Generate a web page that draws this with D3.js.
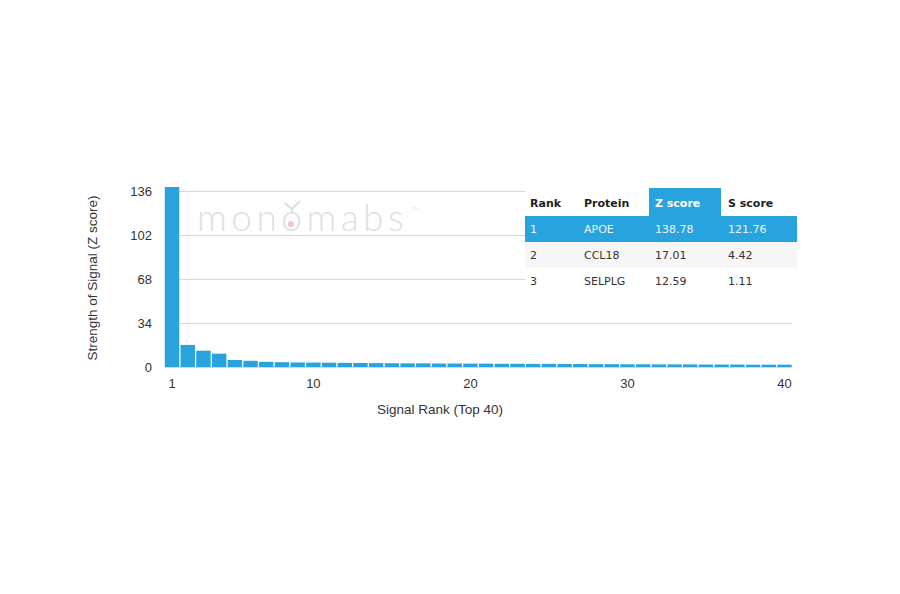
<!DOCTYPE html>
<html><head><meta charset="utf-8">
<script src="https://cdn.jsdelivr.net/npm/d3@7"></script>
<style>body{margin:0;background:#fff;} svg{display:block;}</style>
</head><body>
<svg id="c" width="900" height="594"></svg>
<script>
const ranks = d3.range(1, 41);
const zScores = [138.78,17.01,12.59,10.3,5.4,4.8,4.0,3.7,3.5,3.4,3.3,3.2,3.1,3.0,2.9,2.8,2.8,2.7,2.7,2.6,2.6,2.5,2.5,2.4,2.4,2.3,2.3,2.2,2.2,2.1,2.1,2.0,2.0,2.0,1.9,1.9,1.9,1.8,1.8,1.8];
const yTicks = [0,34,68,102,136];
const xTicks = [1,10,20,30,40];
const tableHeader = ["Rank","Protein","Z score","S score"];
const tableRank = ["1","2","3"];
const tableProtein = ["APOE","CCL18","SELPLG"];
const tableZ = ["138.78","17.01","12.59"];
const tableS = ["121.76","4.42","1.11"];

const svg = d3.select("#c");
const blue = "#29a3dd";
const x = d3.scaleBand().domain(ranks).range([164.5, 792]).paddingInner(0.08).paddingOuter(0.02);
const y = d3.scaleLinear().domain([0, 138.78]).range([367, 187]);

// gridlines
svg.append("g").selectAll("line").data(yTicks.filter(d=>d>0)).join("line")
  .attr("x1", 165).attr("x2", 792)
  .attr("y1", d=>Math.round(y(d))+0.5).attr("y2", d=>Math.round(y(d))+0.5)
  .attr("stroke", "#d6d6d6").attr("stroke-width", 1);

// watermark
const wm = svg.append("g");
const wt = wm.append("text").attr("x", 197).attr("y", 231).text("monomabs")
  .attr("font-family", "Lato, 'Open Sans', sans-serif").attr("font-weight", 300)
  .attr("font-size", 37).attr("letter-spacing", 4.5).attr("fill", "#e0e0e0");
let cx = 294;
try {
  const s = wt.node().getStartPositionOfChar(3).x, e = wt.node().getEndPositionOfChar(3).x;
  cx = (s + e) / 2 - 2;
} catch (err) {}
wm.append("circle").attr("cx", cx - 1).attr("cy", 224).attr("r", 3).attr("fill", "#f2c4cb");
wm.append("path").attr("d", `M${cx-7},203 L${cx},209 L${cx+8},201 M${cx},209 L${cx},213`)
  .attr("stroke", "#e0e0e0").attr("stroke-width", 2.2).attr("fill", "none");
wm.append("text").attr("x", 412).attr("y", 211).text("™").attr("font-size", 6).attr("fill", "#e6e6e6")
  .attr("font-family", "'Liberation Sans', sans-serif");

// bars
svg.append("g").selectAll("rect").data(ranks).join("rect")
  .attr("x", d=>x(d)).attr("width", x.bandwidth())
  .attr("y", (d,i)=>y(zScores[i])).attr("height", (d,i)=>y(0)-y(zScores[i]))
  .attr("fill", blue);

// baseline
svg.append("line").attr("x1",165).attr("x2",792).attr("y1",367.5).attr("y2",367.5)
  .attr("stroke","#d6d6d6");

// y axis labels
svg.append("g").selectAll("text").data(yTicks).join("text")
  .attr("x", 152).attr("y", d=>y(d)+5).attr("text-anchor","end")
  .attr("font-family","'Liberation Sans', Arial, sans-serif").attr("font-size",13)
  .attr("fill","#333").text(d=>d);

// x axis labels
svg.append("g").selectAll("text").data(xTicks).join("text")
  .attr("x", d=>x(d)+x.bandwidth()/2).attr("y", 388).attr("text-anchor","middle")
  .attr("font-family","'Liberation Sans', Arial, sans-serif").attr("font-size",13)
  .attr("fill","#333").text(d=>d);

svg.append("text").attr("x", 440).attr("y", 414).attr("text-anchor","middle")
  .attr("font-family","'Liberation Sans', Arial, sans-serif").attr("font-size",13.5)
  .attr("fill","#333").text("Signal Rank (Top 40)");
svg.append("text").attr("transform","translate(97,278) rotate(-90)").attr("text-anchor","middle")
  .attr("font-family","'Liberation Sans', Arial, sans-serif").attr("font-size",13.5)
  .attr("fill","#333").text("Strength of Signal (Z score)");

// table
const tx = 525, tw = 272, colX = [530, 584, 655, 728];
const rowY = [188, 216, 242, 268, 294];
const tg = svg.append("g");
tg.append("rect").attr("x", tx).attr("y", rowY[0]).attr("width", tw).attr("height", rowY[4]-rowY[0]).attr("fill","#fff");
tg.append("rect").attr("x", 649).attr("y", rowY[0]).attr("width", 72).attr("height", rowY[1]-rowY[0]).attr("fill", blue);
tg.append("rect").attr("x", tx).attr("y", rowY[1]).attr("width", tw).attr("height", rowY[2]-rowY[1]).attr("fill", blue);
tg.append("rect").attr("x", tx).attr("y", rowY[2]).attr("width", tw).attr("height", rowY[3]-rowY[2]).attr("fill", "#f7f7f7");
const tf = "'DejaVu Sans', sans-serif";
tg.selectAll("text.h").data(tableHeader).join("text").attr("class","h")
  .attr("x",(d,i)=>colX[i]).attr("y",207).text(d=>d)
  .attr("font-family",tf).attr("font-size",11).attr("font-weight","bold")
  .attr("fill",(d,i)=>i===2?"#fff":"#222");
const rows = tableRank.map((r,i)=>[r, tableProtein[i], tableZ[i], tableS[i]]);
rows.forEach((row,ri)=>{
  tg.selectAll("text.r"+ri).data(row).join("text").attr("class","r"+ri)
    .attr("x",(d,i)=>colX[i]).attr("y",rowY[ri+1]+17).text(d=>d)
    .attr("font-family",tf).attr("font-size",11)
    .attr("fill", ri===0?"#e8f6fd":"#333");
});
</script>
</body></html>
